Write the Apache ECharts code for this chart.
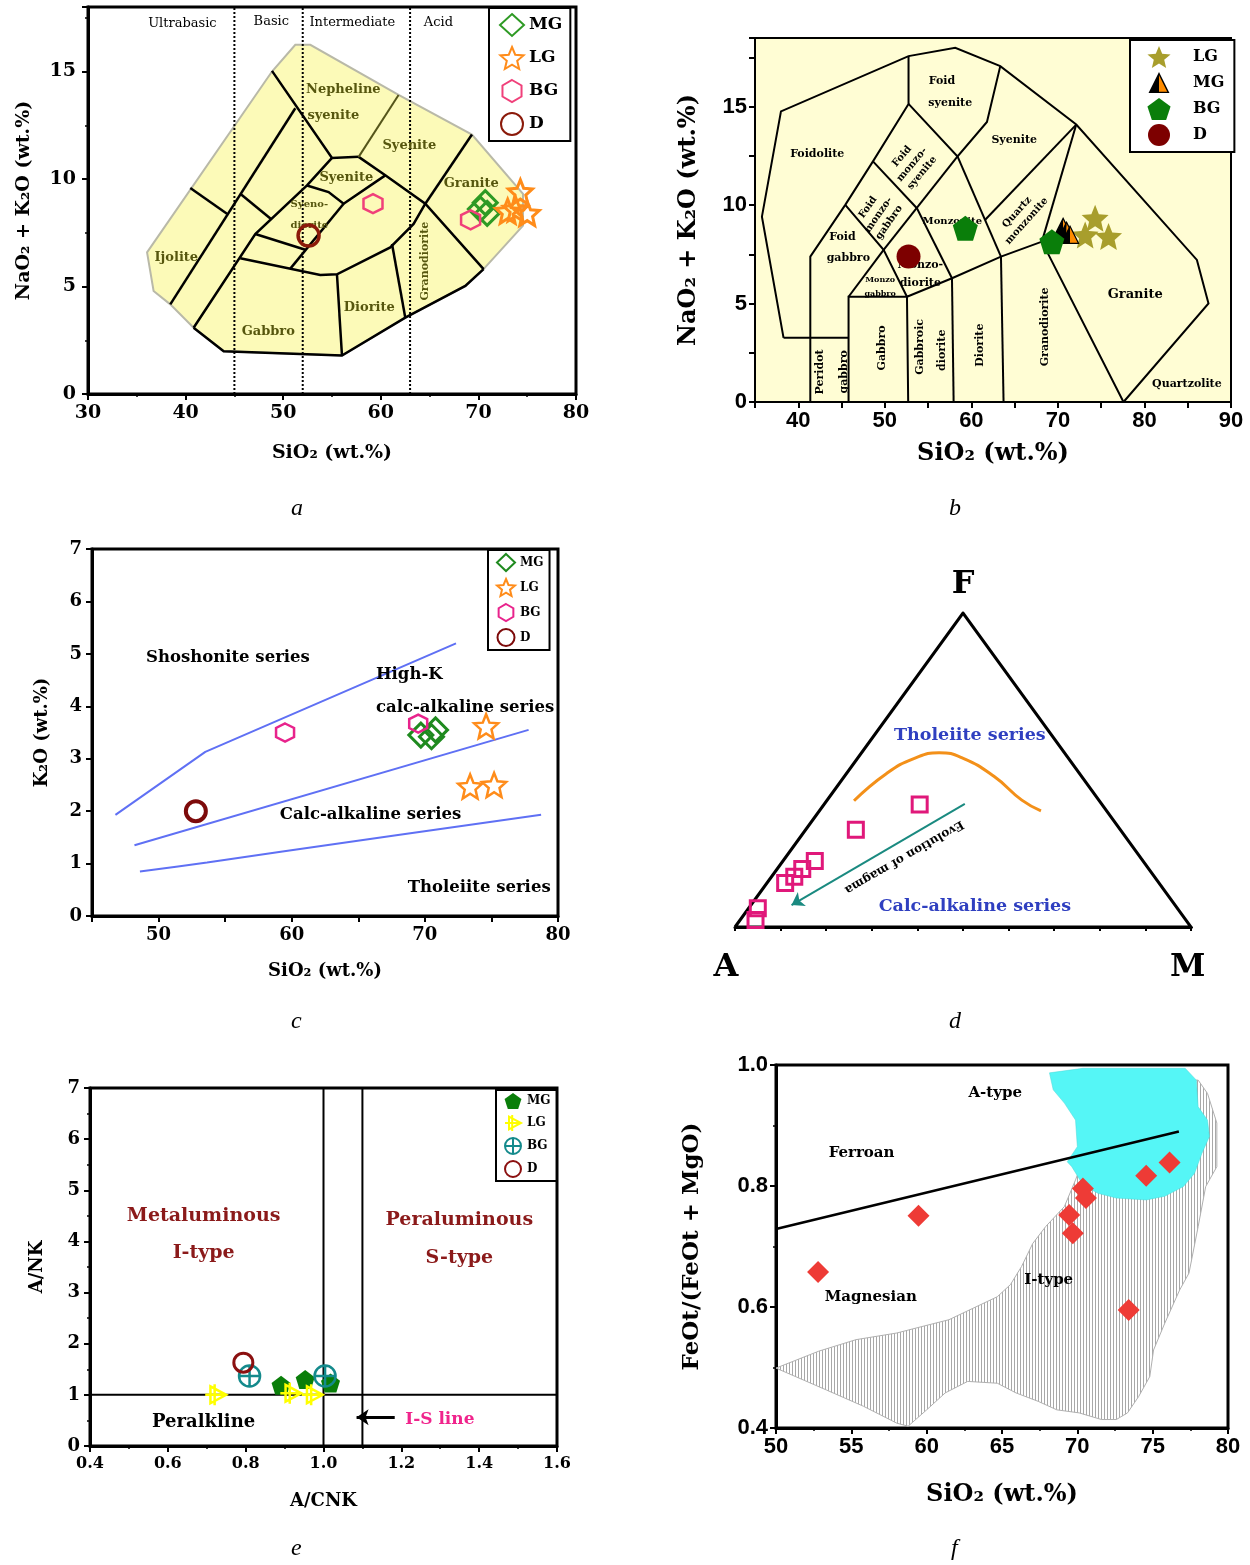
<!DOCTYPE html>
<html>
<head>
<meta charset="utf-8">
<script src="https://cdn.jsdelivr.net/npm/echarts@6/dist/echarts.min.js"></script>
<style>html,body{margin:0;background:#fff}#main{width:1250px;height:1565px}</style>
</head>
<body>
<div id="main"></div>
<script>
// ---------- panel a : TAS (plutonic) ----------
var aDividers = [45, 52, 63];
var aOuter = [[36.05,6.59],[48.85,15.0],[51.24,16.24],[52.78,16.24],[61.82,13.91],[69.34,12.07],[74.57,9.31],[74.57,7.83],[70.53,5.81],[68.66,5.03],[62.51,3.55],[56.02,1.79],[43.9,1.99],[40.82,3.08],[38.43,4.17],[36.72,4.79]];
var aFieldLines = [
  [[48.85,15.03],[55.0,10.98],[57.73,11.03]],
  [[57.73,11.03],[60.46,10.17],[64.56,8.85],[70.53,5.81]],
  [[64.56,8.85],[69.34,12.07]],
  [[64.56,8.85],[63.36,7.91],[60.97,6.82],[55.51,5.57],[53.8,5.54],[45.6,6.31]],
  [[40.82,3.08],[47.14,7.44],[52.44,9.7],[55.0,10.98]],
  [[52.44,9.7],[54.65,9.39],[56.19,8.85],[60.46,10.17]],
  [[56.19,8.85],[50.73,5.83]],
  [[47.14,7.44],[52.27,6.71]],
  [[38.43,4.17],[51.24,13.29]],
  [[40.48,9.58],[44.24,8.38]],
  [[45.6,9.31],[48.75,8.14]],
  [[55.51,5.57],[56.02,1.79]],
  [[61.15,6.98],[62.51,3.55]],
  [[40.82,3.08],[43.9,1.99],[56.02,1.79],[62.51,3.55],[68.66,5.03],[70.53,5.81]]
];
var aOliveLine = [[[57.73,11.03],[61.82,13.91]]];
var aMG = [[70.2,8.6],[70.7,8.9],[70.9,8.4]];
var aLG = [[74.3,9.4],[73.0,8.5],[73.8,8.6],[75.0,8.4]];
var aBG = [[59.2,8.85],[69.2,8.1]];
var aD  = [[52.6,7.37]];
var aTopLabels = [[39.67,17.25,'Ultrabasic'],[48.78,17.3,'Basic'],[57.08,17.26,'Intermediate'],[65.9,17.26,'Acid']];
var aFieldLabels = [
  [56.16,14.17,'Nepheline'],[55.14,12.95,'syenite'],[62.93,11.55,'Syenite'],[56.47,10.06,'Syenite'],
  [52.68,8.84,'Syeno-',0,10],[52.68,7.86,'diorite',0,10],[69.27,9.78,'Granite'],[39.05,6.32,'Ijolite'],
  [64.57,6.18,'Granodiorite',90,11],[58.82,4.03,'Diorite'],[48.47,2.91,'Gabbro']
];

// ---------- panel b : TAS (Middlemost) ----------
var bOuter = [[38.3,3.26],[35.8,9.42],[38.0,14.77],[52.74,17.58],[58.14,18.0],[63.34,17.07],[72.12,14.1],[86.06,7.22],[87.4,5.01],[77.58,0]];
var bFieldLines = [
  [[38.3,3.26],[45.81,3.26]],
  [[41.39,0],[41.39,7.39],[45.43,10.02],[48.63,12.23],[52.74,15.15],[52.74,17.58]],
  [[45.81,0],[45.81,5.35],[52.56,5.35],[52.7,0]],
  [[52.56,5.35],[57.76,6.29],[63.42,7.39],[68.15,8.15],[77.58,0]],
  [[57.76,6.29],[57.95,0]],
  [[63.42,7.39],[63.72,0]],
  [[68.15,8.15],[72.12,14.1]],
  [[52.74,15.15],[58.4,12.48],[61.8,14.23],[63.34,17.07]],
  [[48.63,12.23],[53.71,9.85]],
  [[45.43,10.02],[49.86,7.73],[52.56,5.35]],
  [[49.86,7.73],[45.81,5.35]],
  [[49.86,7.73],[58.4,12.48]],
  [[58.4,12.48],[63.42,7.39]],
  [[53.71,9.85],[57.76,6.29]],
  [[61.6,9.26],[72.12,14.1]]
];
var bLG = [[74.3,9.34],[73.15,8.49],[75.85,8.41]];
var bMG = [[70.6,8.9],[71.0,8.7],[71.4,8.5]];
var bBG = [[59.3,8.83],[69.3,8.15]];
var bD  = [[52.74,7.39]];
var bFieldLabels = [
  [56.6,16.33,'Foid'],[57.56,15.21,'syenite'],[42.19,12.6,'Foidolite'],[64.95,13.33,'Syenite'],
  [53.14,12.06,'Foid\nmonzo-\nsyenite',50,10],[49.28,9.51,'Foid\nmonzo-\ngabbro',55,10],
  [57.8,9.2,'Monzonite',0,10],[65.84,9.42,'Quartz\nmonzonite',48,10],
  [45.1,8.38,'Foid'],[45.78,7.31,'gabbro'],[54.1,6.96,'Monzo-'],[54.1,6.05,'diorite'],
  [49.46,6.2,'Monzo',0,8],[49.46,5.48,'gabbro',0,8],
  [42.54,1.53,'Peridot',90],[45.32,1.53,'gabbro',90],[49.67,2.75,'Gabbro',90],
  [54.1,2.8,'Gabbroic',90],[56.6,2.63,'diorite',90],[61.03,2.89,'Diorite',90],[68.53,3.82,'Granodiorite',90],
  [78.93,5.47,'Granite',0,13],[84.9,0.89,'Quartzolite']
];

// ---------- panel c : K2O vs SiO2 ----------
var cLine1 = [[46.76,1.93],[53.51,3.13],[72.34,5.2]];
var cLine2 = [[48.19,1.35],[77.79,3.55]];
var cLine3 = [[48.6,0.85],[53.64,1.02],[59.31,1.23],[78.73,1.93]];
var cMG = [[69.7,3.45],[70.5,3.42],[70.8,3.55]];
var cLG = [[74.6,3.62],[73.4,2.47],[75.2,2.5]];
var cBG = [[59.5,3.5],[69.5,3.67]];
var cD  = [[52.8,2.0]];
var cLabels = [[55.21,4.93,'Shoshonite series'],[68.83,4.61,'High-K'],[73.02,3.97,'calc-alkaline series'],[65.92,1.94,'Calc-alkaline series'],[74.08,0.54,'Tholeiite series']];

// ---------- panel d : AFM ternary, values as [A, F, M] ----------
var dVertices = [[100,0,0],[0,100,0],[0,0,100]];
var dSamples = [[40,39,21],[58,31,11],[72,21,7],[76,18.5,5.5],[79,16,5],[82,14,4],[92,6,2],[94.4,2.2,3.4]];
var dDivide = [[53.8,40.2,6.0],[42.3,48.9,8.8],[33.8,53.7,12.5],[27.5,55.5,17.0],[23.1,53.7,23.2],[19.2,47.9,32.9],[16.9,40.4,42.7],[14.4,37,48.6]];
var dArrow = [[30,39.2,30.8],[84.1,7,8.9]];
var dLabels = [[0.5,1.09,'F',0,32],[-0.02,-0.13,'A',0,32],[0.993,-0.13,'M',0,32]];
var dSeriesLabels = [[0.515,0.611,'Tholeiite series'],[0.526,0.067,'Calc-alkaline series']];
var dArrowLabel = [[0.371,0.223,'Evolution of magma',210,12]];

// ---------- panel e : A/NK vs A/CNK ----------
var eMG = [[0.891,1.19],[0.953,1.3],[1.018,1.23]];
var eLG = [[0.723,1.0],[0.916,1.03],[0.971,1.0]];
var eBG = [[0.81,1.37],[1.004,1.37]];
var eD  = [[0.794,1.63]];
var eBounds = [[[1.0,0],[1.0,7]],[[1.1,0],[1.1,7]],[[0.4,1],[1.6,1]]];
var eArrow = [[1.183,0.56],[1.085,0.56]];
var eRedLabels = [[0.692,4.5,'Metaluminous'],[0.692,3.78,'I-type'],[1.349,4.41,'Peraluminous'],[1.349,3.68,'S-type']];
var eBlackLabels = [[0.692,0.46,'Peralkline']];
var ePinkLabels = [[1.299,0.51,'I-S line']];

// ---------- panel f : FeOt/(FeOt+MgO) vs SiO2 ----------
var fSamples = [[52.79,0.658],[59.46,0.751],[69.46,0.752],[69.7,0.722],[70.37,0.796],[70.57,0.78],[73.41,0.595],[74.57,0.817],[76.12,0.839]];
var fDivide = [[50,0.729],[76.74,0.89]];
var fAType = [[68.15,0.987],[70.37,0.9945],[77.16,0.9945],[77.9,0.975],[78.02,0.931],[78.64,0.909],[78.77,0.882],[78.27,0.854],[77.78,0.821],[77.04,0.799],[75.8,0.783],[74.57,0.777],[72.59,0.78],[71.36,0.788],[70.37,0.802],[69.63,0.832],[69.33,0.84],[70.0,0.865],[69.88,0.909],[69.14,0.937],[68.4,0.959]];
var fIType = [[50,0.499],[52.84,0.527],[55.31,0.546],[58.02,0.557],[59.26,0.565],[61.48,0.579],[64.69,0.617],[65.56,0.637],[66.3,0.667],[67.04,0.705],[67.9,0.733],[69.14,0.766],[69.88,0.81],[70.86,0.876],[73.09,0.942],[75.06,0.975],[78.02,0.975],[78.64,0.953],[79.26,0.904],[79.26,0.832],[78.52,0.799],[78.02,0.733],[77.41,0.656],[76.79,0.628],[75.8,0.573],[75.06,0.529],[74.81,0.485],[74.07,0.452],[73.33,0.425],[72.59,0.414],[71.6,0.414],[70.12,0.425],[68.64,0.43],[67.41,0.444],[65.93,0.458],[64.69,0.474],[62.72,0.477],[61.23,0.458],[60.0,0.43],[58.77,0.403],[58.02,0.408],[55.8,0.436],[53.33,0.463]];
var fLabels = [[64.55,0.954,'A-type'],[55.68,0.855,'Ferroan'],[56.29,0.617,'Magnesian'],[68.1,0.645,'I-type']];

var serif = 'DejaVu Serif';
var sans = 'Liberation Sans';

// symbols
var starSym = 'path://M50,0 L63.2,31.8 L97.6,34.5 L71.4,57 L79.4,90.5 L50,72.5 L20.6,90.5 L28.6,57 L2.4,34.5 L36.8,31.8 Z';
var pentSym = 'path://M50,0 L97.6,34.5 L79.4,90.5 L20.6,90.5 L2.4,34.5 Z';
var hexSym = 'path://M50,0 L93.3,25 L93.3,75 L50,100 L6.7,75 L6.7,25 Z';
var circPlusSym = 'path://M50,2 A48,48 0 1,1 49.9,2 Z M50,2 L50,98 M2,50 L98,50';
var triCrossSym = 'path://M25,10 L100,50 L25,90 Z M0,50 L100,50 M45,0 L45,100';
var triSvg = "<svg xmlns='http://www.w3.org/2000/svg' width='40' height='40'><polygon points='20,3 3,37 20,37' fill='#000'/><polygon points='20,3 37,37 20,37' fill='#ff8c00'/><polygon points='20,3 37,37 3,37' fill='none' stroke='#000' stroke-width='2.5'/></svg>";
var triSym = 'image://data:image/svg+xml;charset=utf-8,' + encodeURIComponent(triSvg);

// vertical hatching for the I-type field
var hatch = document.createElement('canvas');
hatch.width = 3; hatch.height = 4;
var hctx = hatch.getContext('2d');
hctx.fillStyle = '#ffffff'; hctx.fillRect(0, 0, 3, 4);
hctx.fillStyle = '#a8a8a8'; hctx.fillRect(0, 0, 1, 4);

function tern(p) {
  var s = p[0] + p[1] + p[2];
  return [(p[2] + p[1] / 2) / s, p[1] / s];
}

function lab(family, size, fmt, margin) {
  return {color:'#000', fontFamily:family, fontWeight:'bold', fontSize:size, formatter:fmt, margin:margin || 8};
}
function valAxis(gi, min, max, interval, label, extra) {
  var ax = {
    type:'value', gridIndex:gi, min:min, max:max, interval:interval,
    splitLine:{show:false},
    axisLine:{show:true, onZero:false, lineStyle:{color:'#000', width:3}},
    axisTick:{show:true, length:6, lineStyle:{color:'#000', width:2}},
    minorTick:{show:true, splitNumber:2, length:3, lineStyle:{color:'#000', width:1.5}},
    axisLabel:label,
    nameLocation:'middle'
  };
  for (var k in extra) ax[k] = extra[k];
  return ax;
}
function nameStyle(family, size) {
  return {fontFamily:family, fontWeight:'bold', fontSize:size, color:'#000'};
}
function polygon(gi, pts, style, z) {
  return {
    type:'custom', xAxisIndex:gi, yAxisIndex:gi, data:pts, silent:true, z:z || 1,
    renderItem:function (params, api) {
      if (params.dataIndex !== 0) return null;
      return {type:'polygon', shape:{points:pts.map(function (p) { return api.coord(p); })}, style:style};
    }
  };
}
function polyLines(gi, list, color, width, type, z) {
  return {
    type:'lines', coordinateSystem:'cartesian2d', xAxisIndex:gi, yAxisIndex:gi, polyline:true, silent:true, z:z || 3,
    data:list.map(function (c) { return {coords:c}; }),
    lineStyle:{color:color, width:width, type:type || 'solid', opacity:1, curveness:0}
  };
}
function arrow(gi, coords, color, width, size) {
  return {
    type:'lines', coordinateSystem:'cartesian2d', xAxisIndex:gi, yAxisIndex:gi, silent:true, z:4,
    symbol:['none','arrow'], symbolSize:size,
    data:[{coords:coords}],
    lineStyle:{color:color, width:width, opacity:1, curveness:0}
  };
}
function texts(gi, items, family, size, color, weight) {
  return {
    type:'scatter', xAxisIndex:gi, yAxisIndex:gi, symbolSize:1, silent:true, clip:false, z:6,
    itemStyle:{color:'transparent', opacity:1},
    data:items.map(function (t) {
      return {value:[t[0], t[1]], label:{formatter:t[2], rotate:t[3] || 0, fontSize:t[4] || size}};
    }),
    label:{show:true, position:'inside', fontFamily:family, fontSize:size, fontWeight:weight || 'bold', color:color, opacity:1, lineHeight:Math.round(size * 1.15)}
  };
}
function points(gi, name, data, symbol, size, fill, stroke, bw) {
  return {
    type:'scatter', name:name, xAxisIndex:gi, yAxisIndex:gi, data:data, symbol:symbol, symbolSize:size, z:10,
    itemStyle:{color:fill, borderColor:stroke, borderWidth:bw || 0, opacity:1}
  };
}
function legendBox(names, left, top, fs, extra) {
  var lg = {
    data:names, left:left, top:top, orient:'vertical', selectedMode:false,
    backgroundColor:'#fff', borderColor:'#000', borderWidth:2,
    formatter:function (n) { return n.split('|')[1]; },
    textStyle:{fontFamily:serif, fontWeight:'bold', fontSize:fs, color:'#000'}
  };
  for (var k in extra) lg[k] = extra[k];
  return lg;
}
function mult(m) { return function (v) { return Math.abs(v / m - Math.round(v / m)) < 1e-6 ? String(v) : ''; }; }
function fixed1(v) { return v.toFixed(1); }

var chart = echarts.init(document.getElementById('main'));

var option = {
  animation:false,
  backgroundColor:'#fff',
  grid:[
    {left:88, top:7, width:488, height:387, show:true, borderColor:'#000', borderWidth:3, backgroundColor:'#fff'},
    {left:755, top:38, width:476, height:364, show:true, borderColor:'#000', borderWidth:2, backgroundColor:'#fffdd4'},
    {left:92, top:549, width:466, height:367, show:true, borderColor:'#000', borderWidth:3, backgroundColor:'#fff'},
    {left:735, top:613, width:456, height:314},
    {left:90, top:1088, width:467, height:358, show:true, borderColor:'#000', borderWidth:3, backgroundColor:'#fff'},
    {left:776, top:1065, width:452, height:363, show:true, borderColor:'#000', borderWidth:3, backgroundColor:'#fff'}
  ],
  xAxis:[
    valAxis(0, 30, 80, 10, lab(serif, 19, null, 10), {name:'SiO₂ (wt.%)', nameGap:50, nameTextStyle:nameStyle(serif, 19)}),
    valAxis(1, 35, 90, 5, lab(sans, 22, mult(10), 8), {name:'SiO₂ (wt.%)', nameGap:40, nameTextStyle:nameStyle(serif, 24),
      axisLine:{show:true, onZero:false, lineStyle:{color:'#000', width:2}}, minorTick:{show:false}}),
    valAxis(2, 45, 80, 5, lab(serif, 18, mult(10), 10), {name:'SiO₂ (wt.%)', nameGap:46, nameTextStyle:nameStyle(serif, 18), minorTick:{show:false}}),
    {type:'value', gridIndex:3, min:0, max:1, interval:0.1, splitLine:{show:false},
      axisLine:{show:true, onZero:false, lineStyle:{color:'#000', width:3}},
      axisTick:{show:true, length:4, lineStyle:{color:'#000', width:2}}, axisLabel:{show:false}},
    valAxis(4, 0.4, 1.6, 0.2, lab(serif, 16, fixed1, 10), {name:'A/CNK', nameGap:46, nameTextStyle:nameStyle(serif, 18)}),
    valAxis(5, 50, 80, 5, lab(sans, 22, null, 8), {name:'SiO₂ (wt.%)', nameGap:55, nameTextStyle:nameStyle(serif, 24)})
  ],
  yAxis:[
    valAxis(0, 0, 18, 5, lab(serif, 19, mult(5), 12), {name:'NaO₂ + K₂O (wt.%)', nameGap:54, nameTextStyle:nameStyle(serif, 19)}),
    valAxis(1, 0, 18.5, 2.5, lab(sans, 22, mult(5), 8), {name:'NaO₂ + K₂O (wt.%)', nameGap:54, nameTextStyle:nameStyle(serif, 24),
      axisLine:{show:true, onZero:false, lineStyle:{color:'#000', width:2}}, minorTick:{show:false}}),
    valAxis(2, 0, 7, 1, lab(serif, 18, null, 10), {name:'K₂O (wt.%)', nameGap:41, nameTextStyle:nameStyle(serif, 18), minorTick:{show:false}}),
    {type:'value', gridIndex:3, min:0, max:1, show:false},
    valAxis(4, 0, 7, 1, lab(serif, 18, null, 10), {name:'A/NK', nameGap:44, nameTextStyle:nameStyle(serif, 18)}),
    valAxis(5, 0.4, 1.0, 0.2, lab(sans, 22, fixed1, 8), {name:'FeOt/(FeOt + MgO)', nameGap:72, nameTextStyle:nameStyle(serif, 23)})
  ],
  legend:[
    legendBox(['a|MG','a|LG','a|BG','a|D'], 489, 8, 17, {padding:[5,8,5,10], itemWidth:24, itemHeight:22, itemGap:9}),
    legendBox(['b|LG','b|MG','b|BG','b|D'], 1130, 40, 16, {padding:[6,10,6,16], itemWidth:26, itemHeight:22, itemGap:4,
      textStyle:{fontFamily:serif, fontWeight:'bold', fontSize:16, color:'#000', padding:[0,0,0,16]}}),
    legendBox(['c|MG','c|LG','c|BG','c|D'], 488, 550, 12, {padding:[3,6,3,8], itemWidth:18, itemHeight:17, itemGap:6}),
    legendBox(['e|MG','e|LG','e|BG','e|D'], 496, 1090, 12, {padding:[3,6,3,8], itemWidth:18, itemHeight:16, itemGap:5})
  ],
  graphic:[
    {type:'text', left:291, top:497, style:{text:'a', font:'italic 24px "Liberation Serif"', fill:'#000'}},
    {type:'text', left:949, top:497, style:{text:'b', font:'italic 24px "Liberation Serif"', fill:'#000'}},
    {type:'text', left:291, top:1010, style:{text:'c', font:'italic 24px "Liberation Serif"', fill:'#000'}},
    {type:'text', left:949, top:1010, style:{text:'d', font:'italic 24px "Liberation Serif"', fill:'#000'}},
    {type:'text', left:291, top:1537, style:{text:'e', font:'italic 24px "Liberation Serif"', fill:'#000'}},
    {type:'text', left:951, top:1537, style:{text:'f', font:'italic 24px "Liberation Serif"', fill:'#000'}}
  ],
  series:[
    // a
    polygon(0, aOuter, {fill:'#fcfab8', stroke:'#b9b9a8', lineWidth:2}),
    polyLines(0, aDividers.map(function (x) { return [[x,0],[x,18]]; }), '#000', 2, 'dotted', 2),
    polyLines(0, aFieldLines, '#000', 2.5),
    polyLines(0, aOliveLine, '#55551a', 2),
    texts(0, aTopLabels, serif, 13, '#000', 'normal'),
    texts(0, aFieldLabels, serif, 13, '#56560e'),
    points(0, 'a|MG', aMG, 'diamond', 24, 'transparent', '#2e9a24', 3),
    points(0, 'a|LG', aLG, starSym, 24, 'transparent', '#ff8c1a', 3),
    points(0, 'a|BG', aBG, hexSym, 19, 'transparent', '#f0407a', 2.5),
    points(0, 'a|D', aD, 'circle', 21, 'transparent', '#8b1a0a', 3.5),
    // b
    polyLines(1, [bOuter], '#000', 2),
    polyLines(1, bFieldLines, '#000', 2),
    texts(1, bFieldLabels, serif, 11, '#000'),
    points(1, 'b|LG', bLG, starSym, 27, '#a89e2c'),
    points(1, 'b|MG', bMG, triSym, 20, '#ff8c00'),
    points(1, 'b|BG', bBG, pentSym, 25, '#0a7e0a'),
    points(1, 'b|D', bD, 'circle', 24, '#7d0000'),
    // c
    {type:'line', xAxisIndex:2, yAxisIndex:2, data:cLine1, showSymbol:false, silent:true, lineStyle:{color:'#5f70f4', width:2}},
    {type:'line', xAxisIndex:2, yAxisIndex:2, data:cLine2, showSymbol:false, silent:true, lineStyle:{color:'#5f70f4', width:2}},
    {type:'line', xAxisIndex:2, yAxisIndex:2, data:cLine3, showSymbol:false, silent:true, smooth:0.3, lineStyle:{color:'#5f70f4', width:2}},
    texts(2, cLabels, serif, 16.5, '#000'),
    points(2, 'c|MG', cMG, 'diamond', 24, 'transparent', '#1f8a1f', 3),
    points(2, 'c|LG', cLG, starSym, 24, 'transparent', '#ff8c1a', 2.5),
    points(2, 'c|BG', cBG, hexSym, 18, 'transparent', '#e8238c', 2.5),
    points(2, 'c|D', cD, 'circle', 20, 'transparent', '#7d0a0a', 4),
    // d
    polyLines(3, [dVertices.concat([dVertices[0]]).map(tern)], '#000', 3),
    {type:'line', xAxisIndex:3, yAxisIndex:3, data:dDivide.map(tern), smooth:true, showSymbol:false, silent:true, lineStyle:{color:'#f39019', width:3}},
    arrow(3, dArrow.map(tern), '#1a8a80', 2, 12),
    texts(3, dLabels, serif, 32, '#000'),
    texts(3, dSeriesLabels, serif, 17.5, '#2f3fc0'),
    texts(3, dArrowLabel, serif, 12, '#000'),
    points(3, 'AFM', dSamples.map(tern), 'rect', 15, 'transparent', '#e0187a', 3),
    // e
    polyLines(4, eBounds, '#000', 2),
    arrow(4, eArrow, '#000', 3, 12),
    texts(4, eRedLabels, serif, 19, '#8b1a1a'),
    texts(4, eBlackLabels, serif, 18, '#000'),
    texts(4, ePinkLabels, serif, 17, '#f0248c'),
    points(4, 'e|MG', eMG, pentSym, 19, '#0a7e0a'),
    points(4, 'e|LG', eLG, triCrossSym, 21, 'transparent', '#ffff00', 2.5),
    points(4, 'e|BG', eBG, circPlusSym, 21, 'transparent', '#148a8c', 2.5),
    points(4, 'e|D', eD, 'circle', 19, 'transparent', '#8b1010', 3),
    // f
    polygon(5, fIType, {fill:{image:hatch, repeat:'repeat'}, stroke:'#b0b0b0', lineWidth:1}, 1),
    polygon(5, fAType, {fill:'#55f6f6', stroke:'#48d8d8', lineWidth:0.5}, 2),
    polyLines(5, [fDivide], '#000', 2.5),
    texts(5, fLabels, serif, 15, '#000'),
    points(5, 'f', fSamples, 'diamond', 22, '#ee3b36')
  ]
};

chart.setOption(option);
</script>
</body>
</html>
